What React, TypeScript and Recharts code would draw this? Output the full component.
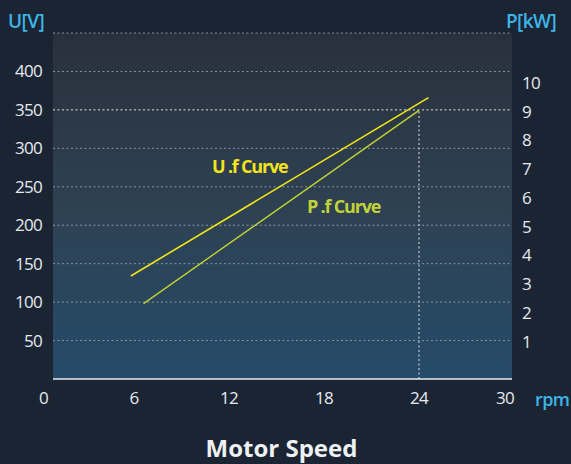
import React from 'react';
import { LineChart, Line, XAxis, YAxis, ReferenceLine, ReferenceArea } from 'recharts';

// rpm ticks along the bottom
const speedTicks = [0, 6, 12, 18, 24, 30];
// left axis (voltage) and right axis (power) ticks
const voltTicks = [50, 100, 150, 200, 250, 300, 350, 400];
const kwTicks = [1, 2, 3, 4, 5, 6, 7, 8, 9, 10];
// dotted grid rows (volts); 350 is the highlighted one
const gridRows = [50, 100, 150, 200, 250, 300, 400, 450];

// U.f curve: rpm vs volts
const uSpeed = [5.8, 24.6];
const uVolts = [134, 366];
// P.f curve: rpm vs kW
const pSpeed = [6.6, 24];
const pKw = [2.33, 9.05];

const uData = uSpeed.map((rpm, i) => ({ rpm, u: uVolts[i] }));
const pData = pSpeed.map((rpm, i) => ({ rpm, p: pKw[i] }));

const W = 571;
const H = 464;
const FONT = '"Open Sans", "Noto Sans", sans-serif';
const TICK_COLOR = '#e6eaef';
const UNIT_COLOR = '#3cb5e8';

// plot background spans a bit less than the axis range
const bgLeft = 0.884;
const bgRight = 29.87;

const tickStyle = { fontSize: 17, letterSpacing: -0.7, fontFamily: FONT };

const LeftTick = (props: any) => {
  const { x, y, payload } = props;
  return (
    <text x={x + 3} y={y} dy="0.35em" textAnchor="end" fill={TICK_COLOR} style={tickStyle}>
      {payload.value}
    </text>
  );
};

const RightTick = (props: any) => {
  const { x, y, payload } = props;
  return (
    <text x={x + 8} y={y} dy="0.35em" textAnchor="start" fill={TICK_COLOR} style={tickStyle}>
      {payload.value}
    </text>
  );
};

const BottomTick = (props: any) => {
  const { x, y, payload } = props;
  const v = payload.value;
  const anchor = v === 0 ? 'start' : v === 30 ? 'end' : 'middle';
  return (
    <text x={x} y={y + 25} textAnchor={anchor} fill={TICK_COLOR} style={tickStyle}>
      {v}
    </text>
  );
};

const App: React.FC = () => {
  return (
    <div style={{ position: 'absolute', left: 0, top: 0, width: W, height: H, background: '#1b2433', fontFamily: FONT }}>
      <LineChart width={W} height={H} margin={{ top: 33, right: 0, bottom: 0, left: 0 }}>
        <defs>
          <linearGradient id="plotBg" x1="0" y1="0" x2="0" y2="1">
            <stop offset="0%" stopColor="#29303c" />
            <stop offset="50%" stopColor="#2e4152" />
            <stop offset="100%" stopColor="#254b69" />
          </linearGradient>
        </defs>
        <XAxis
          type="number"
          dataKey="rpm"
          domain={[0, 30]}
          ticks={speedTicks}
          interval={0}
          height={85}
          axisLine={false}
          tickLine={false}
          tickSize={0}
          tickMargin={0}
          tick={<BottomTick />}
        />
        <YAxis
          yAxisId="u"
          orientation="left"
          domain={[0, 450]}
          ticks={voltTicks}
          interval={0}
          width={39}
          axisLine={false}
          tickLine={false}
          tickSize={0}
          tickMargin={0}
          tick={<LeftTick />}
        />
        <YAxis
          yAxisId="p"
          orientation="right"
          domain={[-0.293, 11.739]}
          allowDataOverflow
          ticks={kwTicks}
          interval={0}
          width={57}
          axisLine={false}
          tickLine={false}
          tickSize={0}
          tickMargin={0}
          tick={<RightTick />}
        />
        <ReferenceArea yAxisId="u" x1={bgLeft} x2={bgRight} y1={0} y2={450} fill="url(#plotBg)" fillOpacity={1} stroke="none" />
        {gridRows.map((v) => (
          <ReferenceLine
            key={v}
            yAxisId="u"
            segment={[{ x: bgLeft, y: v }, { x: bgRight, y: v }]}
            stroke="#8893a1"
            strokeDasharray="2 2.5"
            strokeWidth={1}
          />
        ))}
        <ReferenceLine
          yAxisId="u"
          segment={[{ x: bgLeft, y: 350 }, { x: bgRight, y: 350 }]}
          stroke="#dfe4ea"
          strokeDasharray="2 2.5"
          strokeWidth={1}
        />
        <ReferenceLine
          yAxisId="u"
          segment={[{ x: 24, y: 0 }, { x: 24, y: 350 }]}
          stroke="#dfe4ea"
          strokeDasharray="2 2.5"
          strokeWidth={1}
        />
        <ReferenceLine
          yAxisId="u"
          segment={[{ x: bgLeft, y: 0 }, { x: bgRight, y: 0 }]}
          stroke="#e6ecf2"
          strokeWidth={1.5}
        />
        <Line
          yAxisId="u"
          data={uData}
          dataKey="u"
          type="linear"
          stroke="#f3e514"
          strokeWidth={1.6}
          dot={false}
          activeDot={false}
          isAnimationActive={false}
        />
        <Line
          yAxisId="p"
          data={pData}
          dataKey="p"
          type="linear"
          stroke="#c3d332"
          strokeWidth={1.4}
          dot={false}
          activeDot={false}
          isAnimationActive={false}
        />
      </LineChart>
      <svg width={W} height={H} style={{ position: 'absolute', left: 0, top: 0, pointerEvents: 'none' }}>
        <text x={8} y={28} fill={UNIT_COLOR} fontSize={19} fontWeight={600} letterSpacing={-0.6} fontFamily={FONT}>U[V]</text>
        <text x={506} y={28} fill={UNIT_COLOR} fontSize={19} fontWeight={600} letterSpacing={-0.6} fontFamily={FONT}>P[kW]</text>
        <text x={535} y={406} fill={UNIT_COLOR} fontSize={18} fontWeight={600} letterSpacing={-0.6} fontFamily={FONT}>rpm</text>
        <text x={212} y={172.5} fill="#f2e51d" fontSize={18} fontWeight={700} letterSpacing={-1.2} fontFamily={FONT}>U .f Curve</text>
        <text x={307} y={212.5} fill="#c2d239" fontSize={18} fontWeight={700} letterSpacing={-1.2} fontFamily={FONT}>P .f Curve</text>
        <text x={281.5} y={456.5} textAnchor="middle" fill="#eef1f4" fontSize={24} fontWeight={700} fontFamily={FONT}>Motor Speed</text>
      </svg>
    </div>
  );
};

export default App;
